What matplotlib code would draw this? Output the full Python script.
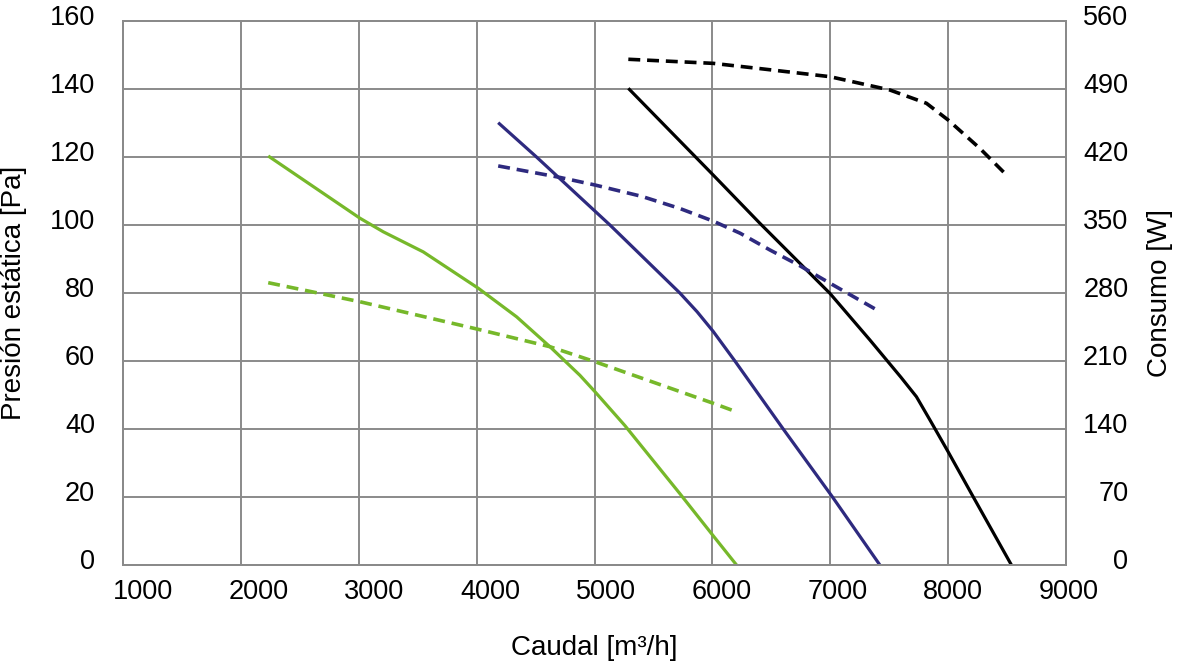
import matplotlib
matplotlib.use("Agg")
import matplotlib.pyplot as plt
from matplotlib.transforms import ScaledTranslation

plt.rcParams['font.family'] = ['Liberation Sans', 'DejaVu Sans']

# ---------------- data ----------------
x_ticks = [1000, 2000, 3000, 4000, 5000, 6000, 7000, 8000, 9000]
p_ticks = [0, 20, 40, 60, 80, 100, 120, 140, 160]
w_ticks = [0, 70, 140, 210, 280, 350, 420, 490, 560]

# Static pressure curves [Pa]
green_p_x = [2232, 3010, 3208, 3547, 4014, 4339, 4622, 4876, 5003, 5258, 5724, 6007, 6205]
green_p_y = [120.3, 102.0, 98.0, 92.1, 81.4, 73.0, 64.2, 55.8, 51.0, 41.0, 21.0, 8.6, 0.0]

blue_p_x = [4183, 4508, 5131, 5724, 5870, 6007, 6191, 6601, 7019, 7421]
blue_p_y = [130.1, 120.0, 100.0, 80.0, 74.5, 68.7, 60.0, 40.0, 20.0, 0.0]

black_p_x = [5287, 6007, 6403, 6997, 7336, 7600, 7731, 7850, 8000, 8212, 8537]
black_p_y = [140.2, 114.7, 100.5, 79.9, 66.2, 55.2, 49.5, 42.4, 33.3, 20.1, 0.0]

# Power consumption curves [W]
green_w_x = [2232, 3010, 4014, 4622, 5003, 6007, 6177]
green_w_y = [290.6, 271.0, 242.6, 224.7, 209.3, 166.5, 158.9]

blue_w_x = [4183, 4706, 5003, 5400, 5724, 6007, 6236, 6488, 6743, 6997, 7421]
blue_w_y = [410.8, 399.0, 391.2, 379.5, 367.0, 354.0, 341.5, 324.3, 308.0, 290.1, 260.8]

black_w_x = [5287, 6007, 6403, 6997, 7505, 7816, 8000, 8269, 8495]
black_w_y = [520.6, 516.4, 511.0, 502.7, 489.0, 475.3, 458.1, 428.9, 401.5]

GREEN = '#76b82a'
BLUE = '#2e2a7f'
BLACK = '#000000'
GRID = '#8a8a8a'
FS = 19.5
FSL = 20

fig = plt.figure(figsize=(11.77, 6.67), dpi=100)
ax = fig.add_axes([123/1177, 1 - 565/667, (1066 - 123)/1177, (565 - 21)/667])
ax2 = ax.twinx()

ax.set_xlim(1000, 9000)
ax.set_ylim(0, 160)
ax2.set_ylim(0, 560)
ax.set_xticks(x_ticks)
ax.set_yticks(p_ticks)
ax2.set_yticks(w_ticks)

ax.grid(True, color=GRID, linewidth=1.4)
ax.set_axisbelow(True)
for a in (ax, ax2):
    for s in a.spines.values():
        s.set_color(GRID)
        s.set_linewidth(1.4)

lw = 2.3
ax.plot(green_p_x, green_p_y, color=GREEN, lw=lw, solid_capstyle='butt', solid_joinstyle='round')
ax.plot(blue_p_x, blue_p_y, color=BLUE, lw=lw, solid_capstyle='butt', solid_joinstyle='round')
ax.plot(black_p_x, black_p_y, color=BLACK, lw=lw, solid_capstyle='butt', solid_joinstyle='round')

dash = (3.3, 1.9)
lwd = 2.6
ax2.plot(green_w_x, green_w_y, color=GREEN, lw=lwd, dashes=dash)
ax2.plot(blue_w_x, blue_w_y, color=BLUE, lw=lwd, dashes=dash)
ax2.plot(black_w_x, black_w_y, color=BLACK, lw=lwd, dashes=dash)

ax.tick_params(axis='both', length=0, labelsize=FS, colors='black')
ax.tick_params(axis='y', pad=20)
ax.tick_params(axis='x', pad=10)
ax2.tick_params(axis='y', length=0, labelsize=FS, pad=45)
for t in ax2.get_yticklabels():
    t.set_horizontalalignment('right')

# label placement offsets (pixels) to mimic the original rendering
for v, t in zip(x_ticks, ax.get_xticklabels()):
    dx = 20 - (v - 1000) * 0.002125
    t.set_transform(t.get_transform() + ScaledTranslation(dx / 100, 0, fig.dpi_scale_trans))
for t in list(ax.get_yticklabels()) + list(ax2.get_yticklabels()):
    t.set_transform(t.get_transform() + ScaledTranslation(0, 6 / 100, fig.dpi_scale_trans))

ax.set_xlabel('Caudal [m³/h]', fontsize=FSL)
ax.xaxis.set_label_coords(0.5, -0.1526)
ax.xaxis.label.set_verticalalignment('center')
ax.set_ylabel('Presión estática [Pa]', fontsize=FSL)
ax.yaxis.set_label_coords(-0.1156, 0.5)
ax.yaxis.label.set_verticalalignment('center')
ax2.set_ylabel('Consumo [W]', fontsize=FSL)
ax2.yaxis.set_label_coords(1.0997, 0.5)
ax2.yaxis.label.set_verticalalignment('center')

fig.savefig('out.png', dpi=100)
